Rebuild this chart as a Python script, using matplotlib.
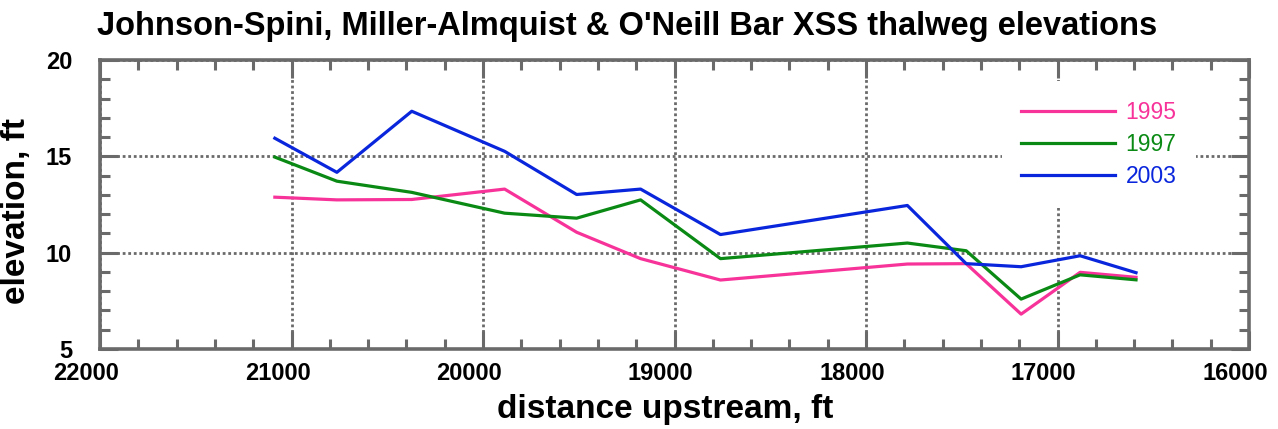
import numpy as np
import matplotlib
matplotlib.use("Agg")
import matplotlib.pyplot as plt
import matplotlib.transforms as mtransforms
from matplotlib.ticker import MultipleLocator

plt.rcParams["font.family"] = ["Liberation Sans", "DejaVu Sans"]

# cross-section stations, ft upstream
distance = [21087, 20763, 20372, 19887, 19511, 19177,
            18760, 17784, 17477, 17190, 16882, 16590]

# thalweg elevations, ft
elev_1995 = [12.88, 12.74, 12.76, 13.30, 11.06, 9.69,
             8.58, 9.41, 9.43, 6.81, 8.98, 8.72]
elev_1997 = [14.96, 13.71, 13.13, 12.05, 11.79, 12.74,
             9.69, 10.50, 10.10, 7.59, 8.85, 8.59]
elev_2003 = [15.94, 14.17, 17.34, 15.26, 13.02, 13.30,
             10.94, 12.45, 9.43, 9.27, 9.84, 8.96]

years = ["1995", "1997", "2003"]
colors = ["#f7339a", "#0a8a14", "#0a26dc"]

frame_gray = "#6a6a6a"

fig = plt.figure(figsize=(12.78, 4.29), dpi=100)
ax = fig.add_axes([100 / 1278, 1 - 349 / 429, 1149 / 1278, 289 / 429])

for vals, yr, c in zip([elev_1995, elev_1997, elev_2003], years, colors):
    ax.plot(distance, vals, color=c, lw=2.3, label=yr, zorder=3)

ax.set_xlim(22000, 16000)
ax.set_ylim(5, 20)

ax.xaxis.set_major_locator(MultipleLocator(1000))
ax.xaxis.set_minor_locator(MultipleLocator(200))
ax.yaxis.set_major_locator(MultipleLocator(5))
ax.yaxis.set_minor_locator(MultipleLocator(1))

ax.tick_params(which="both", direction="in", top=True, right=True,
               color=frame_gray, width=2.2)
ax.tick_params(which="major", length=13)
ax.tick_params(which="minor", length=7)
ax.tick_params(axis="x", which="major", pad=9, labelsize=17)
ax.tick_params(axis="y", which="major", pad=20, labelsize=17)

# x labels sit a little left of their ticks
shift = mtransforms.ScaledTranslation(-0.14, 0, fig.dpi_scale_trans)
for lab in ax.get_xticklabels():
    lab.set_fontweight("bold")
    lab.set_transform(lab.get_transform() + shift)
for lab in ax.get_yticklabels():
    lab.set_fontweight("bold")

for sp in ax.spines.values():
    sp.set_color(frame_gray)
    sp.set_linewidth(2.6)

ax.grid(which="major", color=frame_gray, lw=2.0, linestyle=(0, (1, 1)),
        zorder=1)
ax.set_axisbelow(True)

leg = ax.legend(loc="upper left", bbox_to_anchor=(0.785, 0.926),
                borderaxespad=0, borderpad=0.85, fontsize=16.5,
                handlelength=4.1, handletextpad=0.45, labelspacing=0.4,
                frameon=True, fancybox=False, facecolor="white",
                edgecolor="none", framealpha=1, labelcolor="linecolor")
for ln in leg.get_lines():
    ln.set_linewidth(2.3)

ax.set_xlabel("distance upstream, ft", fontsize=24, fontweight="bold")
ax.xaxis.set_label_coords(0.4917, -0.155)
ax.set_ylabel("elevation, ft", fontsize=24, fontweight="bold")
ax.yaxis.set_label_coords(-0.059, 0.476)

fig.text(97 / 1278, 1 - 35 / 429,
         "Johnson-Spini, Miller-Almquist & O'Neill Bar XSS thalweg elevations",
         fontsize=23.5, fontweight="bold", ha="left", va="baseline")

fig.savefig("out.png", dpi=100)
